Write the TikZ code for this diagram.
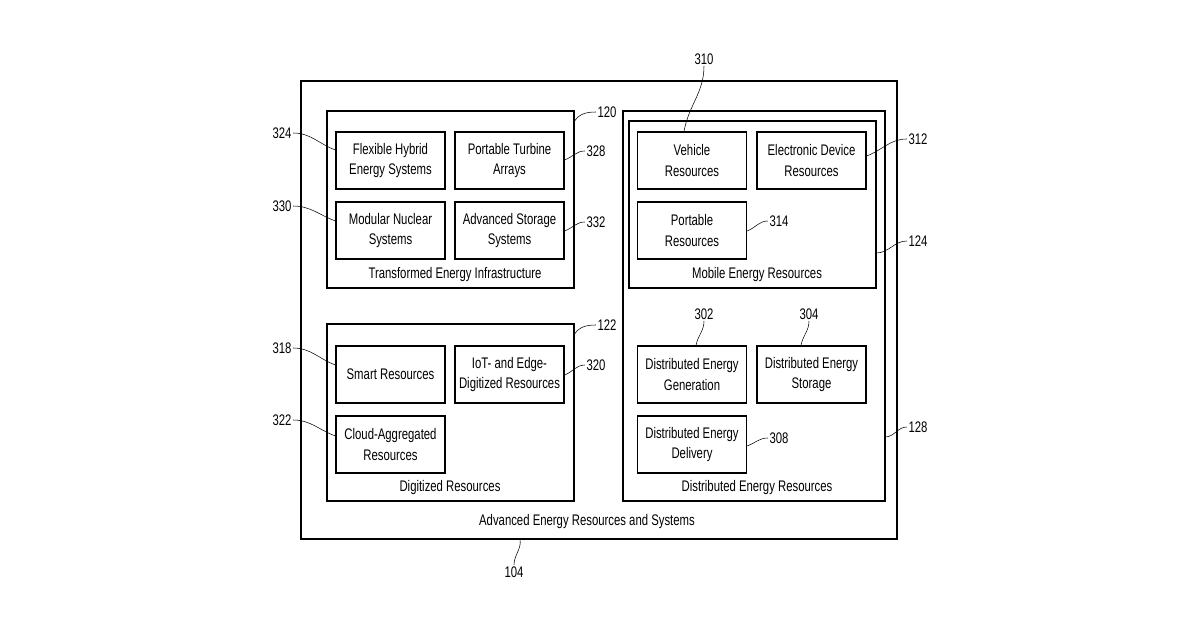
\documentclass[tikz,border=0pt]{standalone}
\usepackage{fontspec}
\setmainfont{Liberation Sans}[FakeStretch=0.74]
\usetikzlibrary{positioning,calc}

\tikzset{
  box/.style={draw,thick,minimum width=81.75pt,minimum height=42.75pt,align=center,inner sep=1pt,font=\fontsize{11.5}{15.5}\selectfont},
  title/.style={font=\fontsize{11.5}{14}\selectfont},
  num/.style={font=\fontsize{11.5}{14}\selectfont,inner sep=1pt},
  lead/.style={thin}
}

\begin{document}
\begin{tikzpicture}[x=0.75pt,y=-0.75pt]
    \useasboundingbox (0,0) rectangle (1200,630);

    % Containers
    \draw[thick] (301,81) rectangle (897,539);
    \draw[thick] (327,111) rectangle (574,288);
    \draw[thick] (327,324) rectangle (574,501);
    \draw[thick] (623,111) rectangle (885,501);
    \draw[thick] (629,121) rectangle (876,288);
    \node[title] (aers) at (587,522) {Advanced Energy Resources and Systems};
    \node[title] (tei) at (455,275) {Transformed Energy Infrastructure};
    \node[title] (dig) at (450,488) {Digitized Resources};
    \node[title] (mer) at (757,275) {Mobile Energy Resources};
    \node[title] (der) at (757,488) {Distributed Energy Resources};

    % Boxes
    \node[box] (fh) at (390.5,160.5) {Flexible Hybrid\\Energy Systems};
    \node[box] (pt) at (509.5,160.5) {Portable Turbine\\Arrays};
    \node[box] (mn) at (390.5,230.5) {Modular Nuclear\\Systems};
    \node[box] (as) at (509.5,230.5) {Advanced Storage\\Systems};
    \node[box] (sr) at (390.5,374.5) {Smart Resources};
    \node[box] (iot) at (509.5,374.5) {IoT- and Edge-\\Digitized Resources};
    \node[box] (ca) at (390.5,444.5) {Cloud-Aggregated\\Resources};
    \node[box] (vr) at (692,160.5) {Vehicle\\Resources};
    \node[box] (ed) at (811.5,160.5) {Electronic Device\\Resources};
    \node[box] (pr) at (692,230.5) {Portable\\Resources};
    \node[box] (dg) at (692,374.5) {Distributed Energy\\Generation};
    \node[box] (ds) at (811.5,374.5) {Distributed Energy\\Storage};
    \node[box] (dd) at (692,444.5) {Distributed Energy\\Delivery};

    % Reference numerals
    \node[num] (n324) at (282,133) {324};
    \node[num] (n330) at (282,206) {330};
    \node[num] (n318) at (282,348) {318};
    \node[num] (n322) at (282,420) {322};
    \node[num] (n328) at (596,151) {328};
    \node[num] (n332) at (596,222) {332};
    \node[num] (n320) at (596,365) {320};
    \node[num] (n120) at (607,112) {120};
    \node[num] (n122) at (607,325) {122};
    \node[num] (n310) at (704,59) {310};
    \node[num] (n312) at (918,139) {312};
    \node[num] (n314) at (779,221) {314};
    \node[num] (n124) at (918,241) {124};
    \node[num] (n302) at (704,314) {302};
    \node[num] (n304) at (809,314) {304};
    \node[num] (n308) at (779,438) {308};
    \node[num] (n128) at (918,427) {128};
    \node[num] (n104) at (514,572) {104};

    % Leaders
    \draw[lead] (n324.east) to[out=0,in=160] (fh.west |- 0,150);
    \draw[lead] (n330.east) to[out=0,in=160] (mn.west |- 0,221);
    \draw[lead] (n318.east) to[out=0,in=160] (sr.west |- 0,365);
    \draw[lead] (n322.east) to[out=0,in=160] (ca.west |- 0,436);
    \draw[lead] (n328.west) to[out=180,in=20] (pt.east |- 0,160);
    \draw[lead] (n332.west) to[out=180,in=20] (as.east |- 0,231);
    \draw[lead] (n320.west) to[out=180,in=20] (iot.east |- 0,375);
    \draw[lead] (n120.west) to[out=180,in=60] (574,122);
    \draw[lead] (n122.west) to[out=180,in=60] (574,335);
    \draw[lead] (n310.south) to[out=-90,in=80] (vr.north -| 684,0);
    \draw[lead] (n312.west) to[out=180,in=20] (ed.east |- 0,156);
    \draw[lead] (n314.west) to[out=180,in=20] (pr.east |- 0,231);
    \draw[lead] (n124.west) to[out=180,in=0] (876,253);
    \draw[lead] (n302.south) to[out=-90,in=80] (dg.north -| 696,0);
    \draw[lead] (n304.south) to[out=-90,in=80] (ds.north -| 801,0);
    \draw[lead] (n308.west) to[out=180,in=20] (dd.east |- 0,446);
    \draw[lead] (n128.west) to[out=180,in=0] (885,437);
    \draw[lead] (n104.north) to[out=90,in=-80] (520,539);
\end{tikzpicture}
\end{document}
